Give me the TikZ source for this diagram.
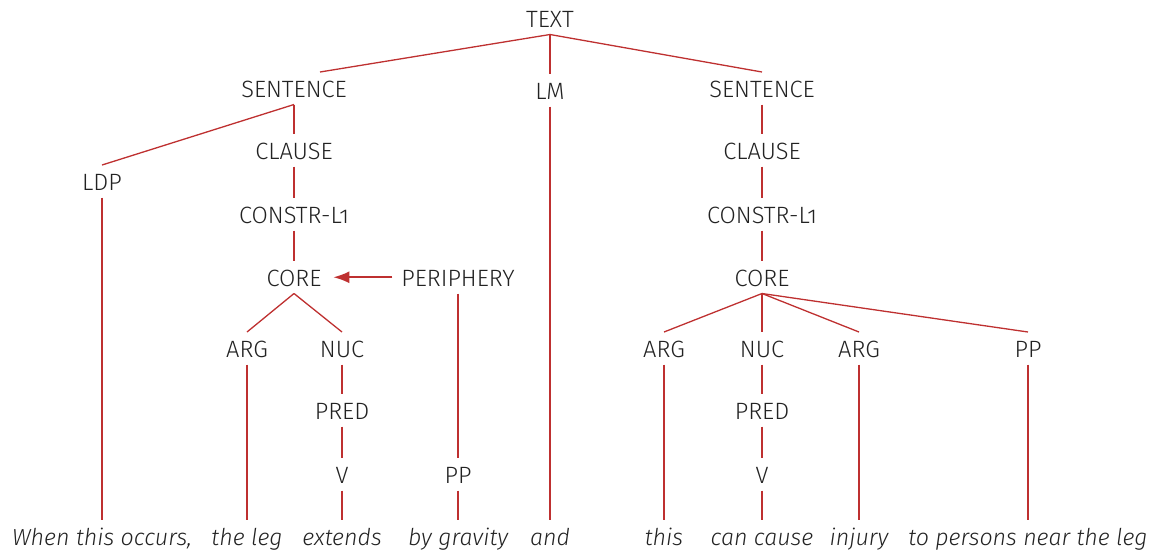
\documentclass[tikz,border=0pt]{standalone}
\usepackage{fontspec}
\setmainfont{Fira Sans Light}[Numbers=OldStyle]
\usetikzlibrary{arrows.meta,calc}
\definecolor{treered}{RGB}{190,48,48}
\definecolor{ink}{RGB}{34,34,34}
\begin{document}
\begin{tikzpicture}[x=0.5pt,y=-0.5pt,
  lbl/.style={anchor=base,inner sep=0pt,outer sep=0pt,text height=12.5pt,text depth=3.75pt,
    font=\fontsize{11.8}{14}\selectfont,text=ink},
  word/.style={lbl,font=\fontsize{11.6}{14}\selectfont\itshape},
  edge/.style={draw=treered,line width=0.65pt}]
\useasboundingbox (0,0) rectangle (1154,554);
% labels
\node[lbl] (text) at (550,27) {TEXT};
\node[lbl] (sentL) at (294,97) {SENTENCE};
\node[lbl] (lm) at (550,99) {LM};
\node[lbl] (sentR) at (762,97) {SENTENCE};
\node[lbl] (ldp) at (102,190) {LDP};
\node[lbl] (clauseL) at (294,159) {CLAUSE};
\node[lbl] (constrL) at (294,223) {CONSTR-L1};
\node[lbl] (coreL) at (294,286) {CORE};
\node[lbl] (peri) at (458,286) {PERIPHERY};
\node[lbl] (argL) at (247,357) {ARG};
\node[lbl] (nucL) at (342,357) {NUC};
\node[lbl] (predL) at (342,419) {PRED};
\node[lbl] (vL) at (342,483) {V};
\node[lbl] (ppL) at (458,483) {PP};
\node[lbl] (clauseR) at (762,159) {CLAUSE};
\node[lbl] (constrR) at (762,223) {CONSTR-L1};
\node[lbl] (coreR) at (762,286) {CORE};
\node[lbl] (argR1) at (664,357) {ARG};
\node[lbl] (nucR) at (762,357) {NUC};
\node[lbl] (argR2) at (859,357) {ARG};
\node[lbl] (ppR) at (1028,357) {PP};
\node[lbl] (predR) at (762,419) {PRED};
\node[lbl] (vR) at (762,483) {V};
% words
\node[word] (w1) at (102,545) {When this occurs,};
\node[word] (w2) at (247,545) {the leg};
\node[word] (w3) at (342,545) {extends};
\node[word] (w4) at (458,545) {by gravity};
\node[word] (w5) at (550,545) {and};
\node[word] (w6) at (664,545) {this};
\node[word] (w7) at (762,545) {can cause};
\node[word] (w8) at (859,545) {injury};
\node[word] (w9) at (1028,545) {to persons near the leg};
% edges
\draw[edge] (text.south) -- ([xshift=13pt]sentL.north);
\draw[edge] (text.south) -- (lm.north);
\draw[edge] (text.south) -- (sentR.north);
\draw[edge] (sentL.south) -- (ldp.north);
\draw[edge] (sentL.south) -- (clauseL.north);
\draw[edge] (clauseL.south) -- (constrL.north);
\draw[edge] (constrL.south) -- (coreL.north);
\draw[edge] (coreL.south) -- (argL.north);
\draw[edge] (coreL.south) -- (nucL.north);
\draw[edge] (nucL.south) -- (predL.north);
\draw[edge] (predL.south) -- (vL.north);
\draw[edge] (peri.south) -- (ppL.north);
\draw[edge,line width=0.8pt,-{Latex[length=8pt,width=6pt]}] ([xshift=-4.5pt]peri.west) -- ([xshift=6pt]coreL.east);
\draw[edge] (sentR.south) -- (clauseR.north);
\draw[edge] (clauseR.south) -- (constrR.north);
\draw[edge] (constrR.south) -- (coreR.north);
\draw[edge] (coreR.south) -- (argR1.north);
\draw[edge] (coreR.south) -- (nucR.north);
\draw[edge] (coreR.south) -- (argR2.north);
\draw[edge] (coreR.south) -- (ppR.north);
\draw[edge] (nucR.south) -- (predR.north);
\draw[edge] (predR.south) -- (vR.north);
\draw[edge] (ldp.south) -- (w1.north);
\draw[edge] (argL.south) -- (w2.north);
\draw[edge] (vL.south) -- (w3.north);
\draw[edge] (ppL.south) -- (w4.north);
\draw[edge] (lm.south) -- (w5.north);
\draw[edge] (argR1.south) -- (w6.north);
\draw[edge] (vR.south) -- (w7.north);
\draw[edge] (argR2.south) -- (w8.north);
\draw[edge] (ppR.south) -- (w9.north);
\end{tikzpicture}
\end{document}
